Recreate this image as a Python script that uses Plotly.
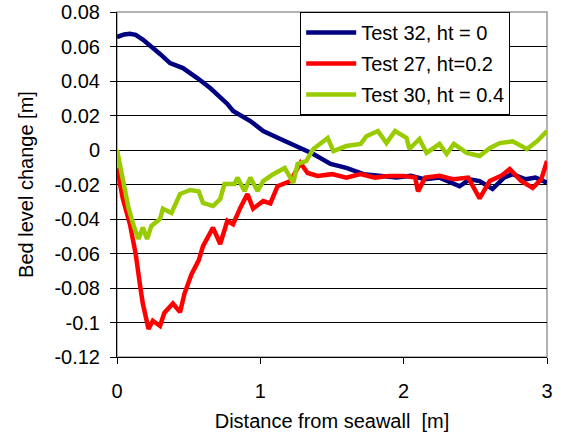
import plotly.graph_objects as go

# Test 32, ht = 0
x32 = [0.0, 0.05, 0.09, 0.13, 0.18, 0.24, 0.30, 0.37, 0.46, 0.56, 0.65, 0.77, 0.81, 0.93, 1.02,
       1.14, 1.28, 1.37, 1.49, 1.60, 1.72, 1.85, 1.95, 2.05, 2.15, 2.25, 2.39, 2.46, 2.53, 2.62,
       2.70, 2.76, 2.85, 2.92, 3.0]
y32 = [0.0655, 0.067, 0.0674, 0.0668, 0.064, 0.060, 0.0557, 0.0504, 0.0475, 0.0417, 0.0359, 0.0267,
       0.0226, 0.0168, 0.0110, 0.0064, 0.0012, -0.0023, -0.0081, -0.0104, -0.014, -0.015, -0.016,
       -0.015, -0.017, -0.016, -0.021, -0.017, -0.018, -0.0226, -0.016, -0.014, -0.017, -0.016, -0.019]

# Test 27, ht=0.2
x27 = [0.0, 0.04, 0.09, 0.13, 0.16, 0.18, 0.22, 0.25, 0.30, 0.33, 0.39, 0.44, 0.47, 0.52, 0.57,
       0.60, 0.67, 0.72, 0.77, 0.81, 0.86, 0.91, 0.95, 1.02, 1.07, 1.12, 1.21, 1.28, 1.33, 1.40,
       1.50, 1.60, 1.70, 1.80, 1.90, 2.00, 2.08, 2.10, 2.15, 2.25, 2.35, 2.45, 2.53, 2.60, 2.68,
       2.74, 2.82, 2.90, 2.96, 3.0]
y27 = [-0.0104, -0.028, -0.043, -0.060, -0.078, -0.089, -0.1038, -0.099, -0.102, -0.0945, -0.089,
       -0.094, -0.0835, -0.072, -0.064, -0.0557, -0.045, -0.0545, -0.041, -0.043, -0.0336, -0.0255,
       -0.034, -0.0296, -0.031, -0.021, -0.018, -0.0075, -0.0133, -0.015, -0.014, -0.016, -0.014,
       -0.016, -0.015, -0.015, -0.016, -0.024, -0.016, -0.015, -0.017, -0.016, -0.028, -0.018,
       -0.015, -0.011, -0.018, -0.022, -0.017, -0.0064]

# Test 30, ht = 0.4
x30 = [0.0, 0.04, 0.08, 0.12, 0.15, 0.18, 0.21, 0.24, 0.30, 0.32, 0.38, 0.44, 0.51, 0.57, 0.60,
       0.67, 0.72, 0.75, 0.82, 0.84, 0.89, 0.93, 0.98, 1.02, 1.09, 1.17, 1.23, 1.26, 1.32, 1.37,
       1.47, 1.51, 1.60, 1.70, 1.74, 1.82, 1.88, 1.94, 2.02, 2.04, 2.11, 2.16, 2.25, 2.30, 2.35,
       2.44, 2.53, 2.60, 2.67, 2.76, 2.86, 2.93, 3.0]
y30 = [0.0, -0.018, -0.0336, -0.045, -0.0516, -0.045, -0.0516, -0.044, -0.040, -0.034, -0.0365,
       -0.0255, -0.0232, -0.024, -0.0307, -0.0325, -0.0284, -0.0197, -0.0197, -0.016, -0.0238,
       -0.016, -0.0238, -0.018, -0.014, -0.0104, -0.019, -0.0081, -0.0064, 0.0006, 0.007, -0.0006,
       0.0023, 0.0035, 0.008, 0.011, 0.004, 0.011, 0.007, 0.0006, 0.0064, -0.0017, 0.0035, -0.0023,
       0.0035, -0.0017, -0.0035, 0.001, 0.004, 0.005, 0.0006, 0.005, 0.011]

names = ["Test 32, ht = 0", "Test 27, ht=0.2", "Test 30, ht = 0.4"]
colors = ["#000080", "#ff0000", "#99cc00"]

yticks = [-0.12, -0.1, -0.08, -0.06, -0.04, -0.02, 0, 0.02, 0.04, 0.06, 0.08]
yticklabels = ["-0.12", "-0.1", "-0.08", "-0.06", "-0.04", "-0.02", "0", "0.02", "0.04", "0.06", "0.08"]
xticks = [0, 1, 2, 3]

fig = go.Figure()
for i, (xs, ys, n, c) in enumerate(zip([x32, x27, x30], [y32, y27, y30], names, colors)):
    fig.add_trace(go.Scatter(x=xs, y=ys, mode="lines", name=n, legendgroup=f"g{i}",
                             line=dict(color=c, width=4.5)))

font = "Liberation Sans, Arial, sans-serif"
fig.update_layout(
    width=563, height=432,
    margin=dict(l=117, r=16, t=12, b=75),
    plot_bgcolor="white", paper_bgcolor="white",
    font=dict(family=font, size=20, color="black"),
    showlegend=True,
    legend=dict(x=0.426, y=1.0, xanchor="left", yanchor="top",
                bgcolor="white", bordercolor="black", borderwidth=1,
                font=dict(size=20), tracegroupgap=2, itemwidth=50),
    xaxis=dict(range=[0, 3], tickvals=xticks, ticks="outside", ticklen=6,
               tickcolor="black", showline=True, linecolor="black", linewidth=1,
               showgrid=False, zeroline=False, automargin=False, ticklabelstandoff=10,
               title=dict(text="Distance from seawall  [m]", font=dict(size=20))),
    yaxis=dict(range=[-0.12, 0.08], tickvals=yticks, ticktext=yticklabels,
               ticks="outside", ticklen=6, tickcolor="black", automargin=False,
               showline=True, linecolor="black", linewidth=1, ticklabelstandoff=6,
               showgrid=True, gridcolor="black", gridwidth=1, zeroline=False,
               title=dict(text="Bed level change [m]", font=dict(size=20))),
    shapes=[dict(type="rect", xref="paper", yref="paper", x0=0, y0=0, x1=1, y1=1,
                 line=dict(color="#999999", width=1.5), layer="below")],
)

fig.write_html("out.html", config={"displayModeBar": False},
               post_script="document.body.style.margin='0';")
